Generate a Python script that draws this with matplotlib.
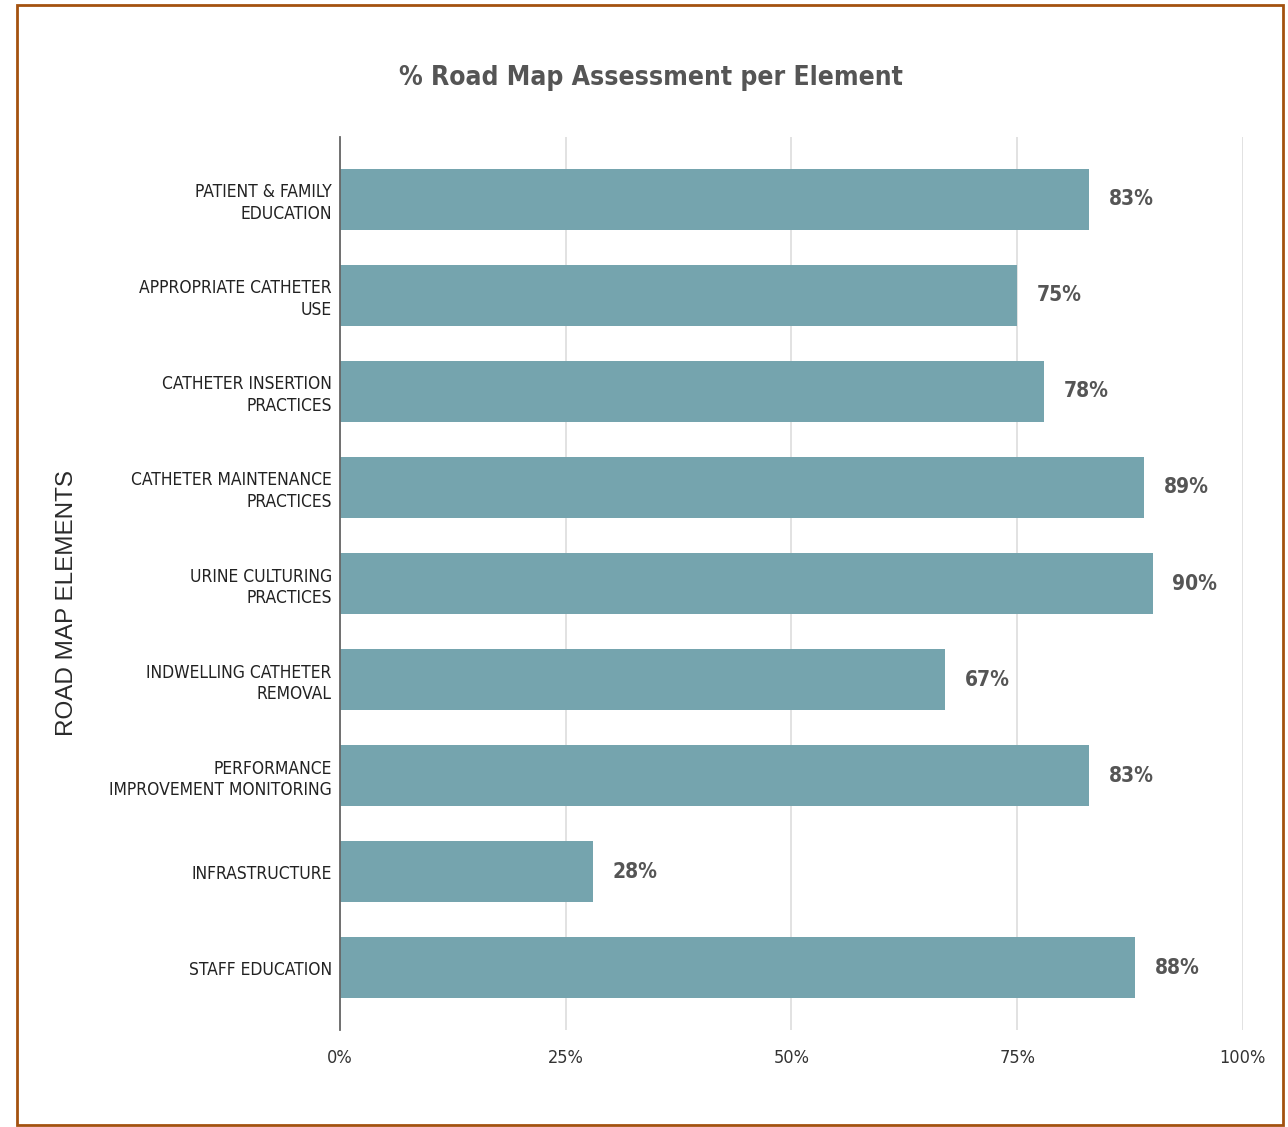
import numpy as np
import matplotlib.pyplot as plt
from matplotlib.patches import Rectangle

elements = ['PATIENT & FAMILY\nEDUCATION', 'APPROPRIATE CATHETER\nUSE',
            'CATHETER INSERTION\nPRACTICES', 'CATHETER MAINTENANCE\nPRACTICES',
            'URINE CULTURING\nPRACTICES', 'INDWELLING CATHETER\nREMOVAL',
            'PERFORMANCE\nIMPROVEMENT MONITORING', 'INFRASTRUCTURE',
            'STAFF EDUCATION']
scores = [83, 75, 78, 89, 90, 67, 83, 28, 88]
xticks = [0, 25, 50, 75, 100]

cond = dict(family='DejaVu Sans', stretch='condensed')
bar_color = '#75a4ae'

fig = plt.figure(figsize=(12.88, 11.27), dpi=100)
ax = fig.add_axes([0.264, 0.0861, 0.701, 0.7923])

y = np.arange(len(elements))
ax.barh(y, scores, height=0.63, color=bar_color, zorder=3)
for yi, v in zip(y, scores):
    ax.text(v + 2.2, yi, f'{v}%', va='center', ha='left', fontsize=15,
            fontweight='bold', color='#555555', **cond)

ax.set_ylim(len(elements) - 0.5 + 0.15, -0.65)
ax.set_xlim(0, 100)
ax.set_yticks(y)
ax.set_yticklabels(elements, fontsize=12.5, color='#222222',
                   linespacing=1.25, **cond)
ax.set_xticks(xticks)
ax.set_xticklabels([f'{t}%' for t in xticks], fontsize=13, color='#333333',
                   **cond)
ax.tick_params(axis='both', length=0)
ax.tick_params(axis='y', pad=6)
ax.tick_params(axis='x', pad=14)

ax.grid(axis='x', color='#dddddd', linewidth=1.2, zorder=0)
for s in ['top', 'right', 'bottom']:
    ax.spines[s].set_visible(False)
ax.spines['left'].set_color('#666666')
ax.spines['left'].set_linewidth(1.3)
ax.spines['left'].set_zorder(4)

fig.text(0.505, 0.931, '% Road Map Assessment per Element', ha='center',
         va='center', fontsize=19, fontweight='bold', color='#555555', **cond)
fig.text(0.052, 0.465, 'ROAD MAP ELEMENTS', rotation=90, ha='center',
         va='center', fontsize=17.5, color='#2a2a2a', family='Liberation Sans')

fig.patches.append(Rectangle((17 / 1288, 2 / 1127), 1266 / 1288, 1120 / 1127,
                             transform=fig.transFigure, fill=False,
                             edgecolor='#a3520f', linewidth=2))

fig.savefig('out.png', dpi=100, facecolor='white')
